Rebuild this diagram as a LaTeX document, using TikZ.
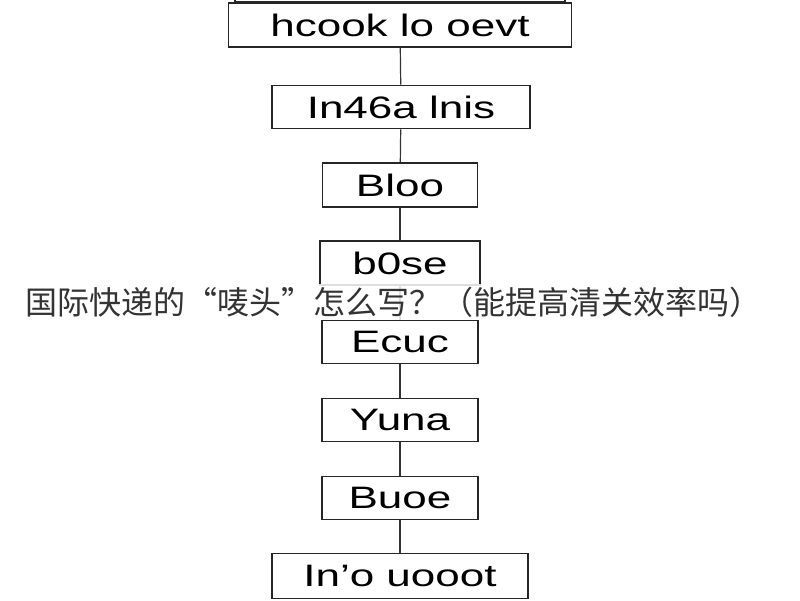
\documentclass[tikz,border=0pt]{standalone}
\usepackage{fontspec}
\setmainfont{Liberation Sans}
\newfontfamily\cjk{Noto Sans CJK SC}
\newcommand{\wt}[1]{\scalebox{1.42}[1]{#1}}
\begin{document}
\begin{tikzpicture}[x=1pt,y=-1pt,
  bx/.style={draw=black!85,line width=1.8pt,fill=white,inner sep=0pt,font=\fontsize{31}{33}\selectfont},
  ln/.style={draw=black!80,line width=1.2pt}]
\useasboundingbox (0,0) rectangle (800,600);
\fill[white] (0,0) rectangle (800,600);
\draw[black!85,line width=1.8pt] (235,-5) rectangle (565,2);
\node[bx,minimum width=343,minimum height=44] (a) at (400,25) {\wt{hcook lo oevt}};
\node[bx,minimum width=258,minimum height=43] (b) at (401,107) {\wt{In46a lnis}};
\node[bx,minimum width=155,minimum height=44] (c) at (400,185) {\wt{Bloo}};
\node[bx,minimum width=160,minimum height=44] (d) at (400,263) {\wt{b0se}};
\node[bx,minimum width=156,minimum height=43] (e) at (400,342) {\wt{Ecuc}};
\node[bx,minimum width=156,minimum height=43] (f) at (400,420) {\wt{Yuna}};
\node[bx,minimum width=156,minimum height=43] (g) at (400,498) {\wt{Buoe}};
\node[bx,minimum width=256,minimum height=45] (h) at (400,576) {\wt{In'o uooot}};
\draw[ln] (a) -- (b); \draw[ln] (b) -- (c); \draw[ln] (c) -- (d);
\draw[ln] (d) -- (e); \draw[ln] (e) -- (f); \draw[ln] (f) -- (g); \draw[ln] (g) -- (h);
\node[fill=white,fill opacity=0.85,text opacity=1,inner sep=3pt,font=\cjk\fontsize{32}{34}\selectfont,text=black!80] (t) at (393,302) {国际快递的“唛头”怎么写？（能提高清关效率吗）};
\end{tikzpicture}
\end{document}
